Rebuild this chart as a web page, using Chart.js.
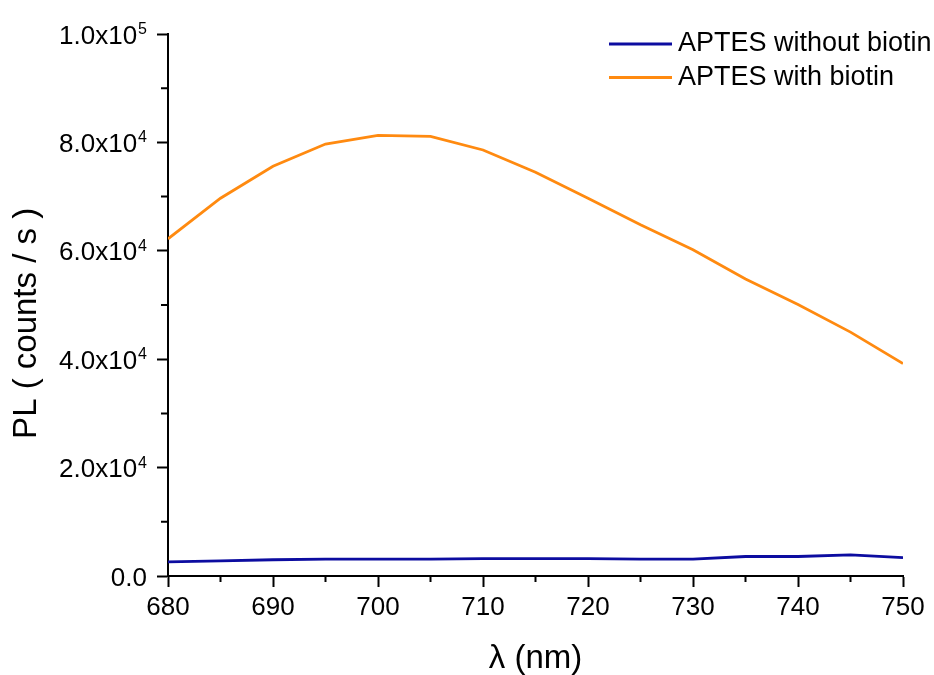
<!DOCTYPE html>
<html lang="en">
<head>
    <meta charset="UTF-8">
    <title>PL spectra - APTES</title>
    <script src="https://cdn.jsdelivr.net/npm/chart.js"></script>
    <style>
        body { margin: 0; background: #fff; }
        canvas { display: block; }
    </style>
</head>
<body>
    <canvas id="pl-chart" width="934" height="675"></canvas>

    <script>
        // wavelength (nm)
        const wavelengths = [680, 685, 690, 695, 700, 705, 710, 715, 720, 725, 730, 735, 740, 745, 750];
        // PL counts / s
        const withoutBiotin = [2600, 2800, 3000, 3100, 3100, 3100, 3200, 3200, 3200, 3100, 3100, 3600, 3600, 3900, 3400];
        const withBiotin = [62200, 69700, 75600, 79700, 81300, 81100, 78600, 74500, 69700, 64800, 60200, 54800, 50100, 45000, 39200];

        const seriesNames = ['APTES without biotin', 'APTES with biotin'];
        const seriesColors = ['#0c0ca0', '#ff8a10'];

        const xMajor = 10, xMinor = 5;
        const yMajor = 20000, yMinor = 10000;

        const fontFamily = '"Liberation Sans", Arial, sans-serif';

        // minor tick marks, shorter than the major ones
        const minorTicks = {
            id: 'minorTicks',
            afterDraw(chart) {
                const { ctx, chartArea, scales } = chart;
                ctx.save();
                ctx.strokeStyle = '#000';
                ctx.lineWidth = 2;
                ctx.beginPath();
                scales.x.ticks.forEach(t => {
                    if (t.value % xMajor === 0) return;
                    const px = scales.x.getPixelForValue(t.value);
                    ctx.moveTo(px, chartArea.bottom);
                    ctx.lineTo(px, chartArea.bottom + 6);
                });
                scales.y.ticks.forEach(t => {
                    if (t.value % yMajor === 0) return;
                    const py = scales.y.getPixelForValue(t.value);
                    ctx.moveTo(chartArea.left, py);
                    ctx.lineTo(chartArea.left - 7, py);
                });
                ctx.stroke();
                ctx.restore();
            }
        };

        // y tick labels in the form 2.0x10^4 with a raised exponent
        const sciLabels = {
            id: 'sciLabels',
            afterDraw(chart) {
                const { ctx, chartArea, scales } = chart;
                const right = chartArea.left - 21;
                ctx.save();
                ctx.fillStyle = '#000';
                scales.y.ticks.forEach(t => {
                    const v = t.value;
                    if (v % yMajor !== 0) return;
                    const py = scales.y.getPixelForValue(v);
                    ctx.font = '26px ' + fontFamily;
                    ctx.textBaseline = 'alphabetic';
                    if (v === 0) {
                        ctx.textAlign = 'right';
                        ctx.fillText('0.0', right, py + 9.5);
                        return;
                    }
                    const exp = Math.floor(Math.log10(v));
                    const mant = (v / Math.pow(10, exp)).toFixed(1);
                    ctx.font = '16px ' + fontFamily;
                    const expW = ctx.measureText(String(exp)).width;
                    ctx.textAlign = 'left';
                    ctx.fillText(String(exp), right - expW, py);
                    ctx.font = '26px ' + fontFamily;
                    ctx.textAlign = 'right';
                    ctx.fillText(mant + 'x10', right - expW - 1, py + 9.5);
                });
                ctx.restore();
            }
        };

        // legend in the upper right corner of the plot
        const cornerLegend = {
            id: 'cornerLegend',
            afterDraw(chart) {
                const { ctx, chartArea } = chart;
                ctx.save();
                ctx.font = '27px ' + fontFamily;
                ctx.textBaseline = 'middle';
                chart.data.datasets.forEach((ds, i) => {
                    const y = chartArea.top + 10 + i * 33.5;
                    const x0 = chartArea.right - 294;
                    ctx.strokeStyle = ds.borderColor;
                    ctx.lineWidth = 2.8;
                    ctx.beginPath();
                    ctx.moveTo(x0, y);
                    ctx.lineTo(x0 + 63, y);
                    ctx.stroke();
                    ctx.fillStyle = '#000';
                    ctx.fillText(ds.label, x0 + 69, y);
                });
                ctx.restore();
            }
        };

        const ctx = document.getElementById('pl-chart').getContext('2d');

        new Chart(ctx, {
            type: 'line',
            data: {
                datasets: [withoutBiotin, withBiotin].map((vals, i) => ({
                    label: seriesNames[i],
                    data: wavelengths.map((w, j) => ({ x: w, y: vals[j] })),
                    borderColor: seriesColors[i],
                    borderWidth: 2.8,
                    pointRadius: 0,
                    tension: 0,
                    fill: false
                }))
            },
            options: {
                responsive: false,
                animation: false,
                layout: { padding: { top: 34, right: 31, left: 0, bottom: 0 } },
                plugins: {
                    legend: { display: false },
                    tooltip: { enabled: false }
                },
                scales: {
                    x: {
                        type: 'linear',
                        min: 680,
                        max: 750,
                        afterFit(scale) { scale.height = 99; },
                        border: { display: true, color: '#000', width: 2 },
                        grid: {
                            drawOnChartArea: false,
                            tickLength: 11,
                            tickWidth: 2,
                            tickColor: c => (c.tick && c.tick.value % xMajor === 0) ? '#000' : 'rgba(0,0,0,0)'
                        },
                        ticks: {
                            stepSize: xMinor,
                            autoSkip: false,
                            maxRotation: 0,
                            padding: 5,
                            color: '#000',
                            font: { family: fontFamily, size: 26 },
                            callback: v => (v % xMajor === 0 ? String(v) : '')
                        },
                        title: {
                            display: true,
                            text: '\u03bb (nm)',
                            color: '#000',
                            padding: { top: 0, bottom: 0 },
                            font: { family: fontFamily, size: 33, lineHeight: 1 }
                        }
                    },
                    y: {
                        min: 0,
                        max: 100000,
                        afterFit(scale) { scale.width = 168; },
                        border: { display: true, color: '#000', width: 2 },
                        grid: {
                            drawOnChartArea: false,
                            tickLength: 11,
                            tickWidth: 2,
                            tickColor: c => (c.tick && c.tick.value % yMajor === 0) ? '#000' : 'rgba(0,0,0,0)'
                        },
                        ticks: {
                            stepSize: yMinor,
                            autoSkip: false,
                            callback: () => ''
                        },
                        title: {
                            display: true,
                            text: 'PL ( counts / s )\u00a0\u00a0\u00a0\u00a0',
                            color: '#000',
                            padding: { top: 10, bottom: 0 },
                            font: { family: fontFamily, size: 33, lineHeight: 1 }
                        }
                    }
                }
            },
            plugins: [minorTicks, sciLabels, cornerLegend]
        });
    </script>
</body>
</html>
